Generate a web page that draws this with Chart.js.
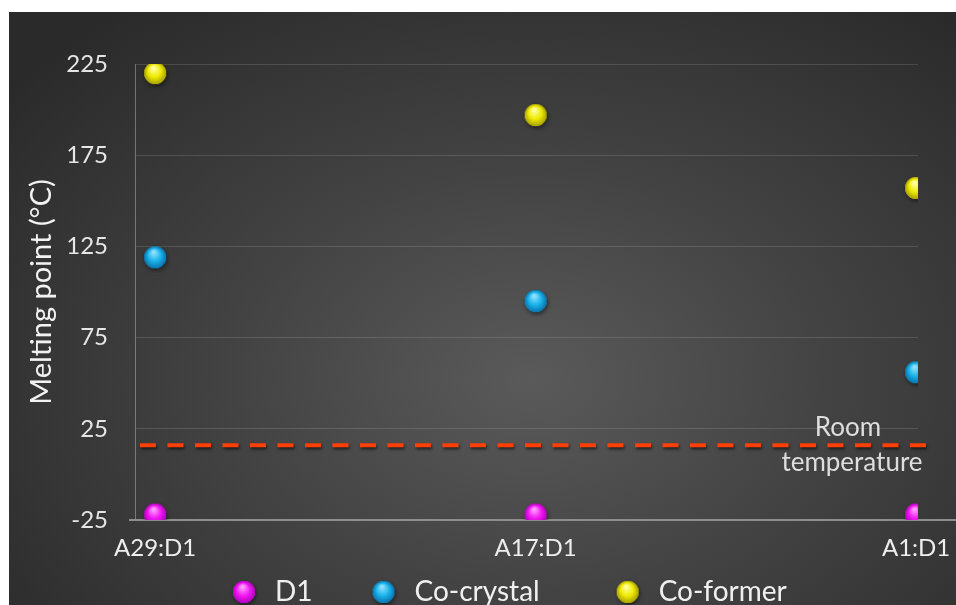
<!DOCTYPE html>
<html>
<head>
<meta charset="utf-8">
<script src="https://cdn.jsdelivr.net/npm/chart.js@4.4.0/dist/chart.umd.min.js"></script>
<style>
  html, body { margin: 0; padding: 0; background: #fff; overflow: hidden; }
  #panel {
    position: absolute; left: 9px; top: 12px; width: 947px; height: 593px;
    background: radial-gradient(ellipse 70% 80% at 55% 62%, #5a5a5a 0%, #434343 45%, #2a2a2a 100%);
  }
  canvas { display: block; }
</style>
</head>
<body>
<div id="panel"><canvas id="chart" width="947" height="593"></canvas></div>
<script>
// ---- data -----------------------------------------------------------
const categories = ["A29:D1", "A17:D1", "A1:D1"];
const d1Values = [-22, -22, -22];
const coCrystalValues = [119, 95, 56];
const coFormerValues = [220, 197, 157];
const yTicks = [-25, 25, 75, 125, 175, 225];
const roomTemp = 16;
const roomTempSpan = [0.96, 3.03];

const FONT = "Lato";

// shaded ball used as point marker (and in the legend)
function sphere(base, light, dark, r) {
  const size = r * 2 + 10;
  const c = document.createElement("canvas");
  c.width = c.height = size;
  const g = c.getContext("2d");
  const cx = size / 2, cy = size / 2;
  g.save();
  g.shadowColor = "rgba(0,0,0,0.55)";
  g.shadowBlur = 4;
  g.shadowOffsetX = 1;
  g.shadowOffsetY = 2;
  g.beginPath();
  g.arc(cx, cy, r, 0, Math.PI * 2);
  g.fillStyle = base;
  g.fill();
  g.restore();
  const grad = g.createRadialGradient(cx - r * 0.15, cy - r * 0.5, r * 0.1, cx, cy, r);
  grad.addColorStop(0, light);
  grad.addColorStop(0.55, base);
  grad.addColorStop(1, dark);
  g.beginPath();
  g.arc(cx, cy, r, 0, Math.PI * 2);
  g.fillStyle = grad;
  g.fill();
  return c;
}

const balls = {
  d1: sphere("#f217f2", "#ff9cff", "#b400c0", 11),
  crystal: sphere("#1ab2ea", "#8fe0ff", "#0a74ae", 11),
  former: sphere("#eeea00", "#ffffa0", "#aaa200", 11),
};

const toPoints = (vals) => vals.map((y, i) => ({ x: i + 1, y }));

// ---- plugins --------------------------------------------------------
const lineShadow = {
  id: "lineShadow",
  beforeDatasetDraw(chart, args) {
    if (!chart.data.datasets[args.index].showLine) return;
    const ctx = chart.ctx;
    ctx.save();
    ctx.shadowColor = "rgba(0,0,0,0.6)";
    ctx.shadowBlur = 3;
    ctx.shadowOffsetX = 1;
    ctx.shadowOffsetY = 2;
  },
  afterDatasetDraw(chart, args) {
    if (!chart.data.datasets[args.index].showLine) return;
    chart.ctx.restore();
  },
};

// category axis line runs past the plot area to the right edge
const baseLine = {
  id: "baseLine",
  beforeDatasetsDraw(chart) {
    const { ctx, chartArea } = chart;
    ctx.save();
    ctx.strokeStyle = "#8e8e8e";
    ctx.lineWidth = 2;
    ctx.beginPath();
    ctx.moveTo(chartArea.left - 6, chartArea.bottom);
    ctx.lineTo(chart.width, chartArea.bottom);
    ctx.stroke();
    ctx.restore();
  },
};

const roomLabel = {
  id: "roomLabel",
  afterDatasetsDraw(chart) {
    const { ctx, chartArea, scales } = chart;
    const y = scales.y.getPixelForValue(roomTemp);
    ctx.save();
    ctx.fillStyle = "#dedede";
    ctx.font = `26px ${FONT}`;
    ctx.textAlign = "center";
    ctx.textBaseline = "middle";
    ctx.fillText("Room", chartArea.right - 70, y - 18);
    ctx.fillText("temperature", chartArea.right - 66, y + 17);
    ctx.restore();
  },
};

const legendGaps = [71, 88];
const ballLegend = {
  id: "ballLegend",
  afterDraw(chart) {
    const { ctx } = chart;
    const cy = 580;
    let x = 235;
    ctx.save();
    ctx.font = `28px ${FONT}`;
    ctx.fillStyle = "#f0f0f0";
    ctx.textBaseline = "middle";
    chart.data.datasets.filter((ds) => !ds.showLine).forEach((ds, i) => {
      const img = ds.pointStyle;
      ctx.drawImage(img, x - img.width / 2, cy - img.height / 2);
      ctx.fillText(ds.label, x + 31, cy);
      x += 31 + ctx.measureText(ds.label).width + (legendGaps[i] || 0);
    });
    ctx.restore();
  },
};

// ---- chart ----------------------------------------------------------
new Chart(document.getElementById("chart"), {
  type: "scatter",
  data: {
    datasets: [
      { label: "D1", data: toPoints(d1Values), pointStyle: balls.d1, pointRadius: 11, order: 1 },
      { label: "Co-crystal", data: toPoints(coCrystalValues), pointStyle: balls.crystal, pointRadius: 11, order: 1 },
      { label: "Co-former", data: toPoints(coFormerValues), pointStyle: balls.former, pointRadius: 11, order: 1 },
      {
        label: "Room temperature",
        data: roomTempSpan.map((x) => ({ x, y: roomTemp })),
        showLine: true,
        borderColor: "#ff3f05",
        borderWidth: 4,
        borderDash: [16, 11.5],
        pointRadius: 0,
        clip: false,
        order: 5,
      },
    ],
  },
  options: {
    responsive: false,
    animation: false,
    layout: { padding: { top: 52, right: 38, left: 0, bottom: 0 } },
    plugins: { legend: { display: false }, tooltip: { enabled: false } },
    scales: {
      x: {
        type: "linear",
        min: 0.947,
        max: 3.005,
        afterBuildTicks: (s) => { s.ticks = categories.map((_, i) => ({ value: i + 1 })); },
        afterFit: (s) => {
          s.height = 85;
          s.paddingLeft = 0;
          s.paddingRight = 0;
        },
        grid: { display: false, drawTicks: false },
        border: { display: false },
        ticks: {
          color: "#eeeeee",
          font: { family: FONT, size: 24 },
          padding: 14,
          maxRotation: 0,
          autoSkip: false,
          callback: (v) => categories[Math.round(v) - 1] ?? "",
        },
      },
      y: {
        min: -25,
        max: 225,
        afterBuildTicks: (s) => { s.ticks = yTicks.map((v) => ({ value: v })); },
        afterFit: (s) => { s.width = 126; },
        grid: { color: "rgba(255,255,255,0.13)", drawTicks: false },
        border: { color: "rgba(255,255,255,0.32)", width: 1 },
        ticks: { color: "#e6e6e6", font: { family: FONT, size: 24 }, padding: 27 },
        title: {
          display: true,
          text: "Melting point (°C)",
          color: "#f2f2f2",
          font: { family: FONT, size: 29 },
          padding: { top: 15, bottom: 0 },
        },
      },
    },
  },
  plugins: [lineShadow, baseLine, roomLabel, ballLegend],
});
</script>
</body>
</html>
